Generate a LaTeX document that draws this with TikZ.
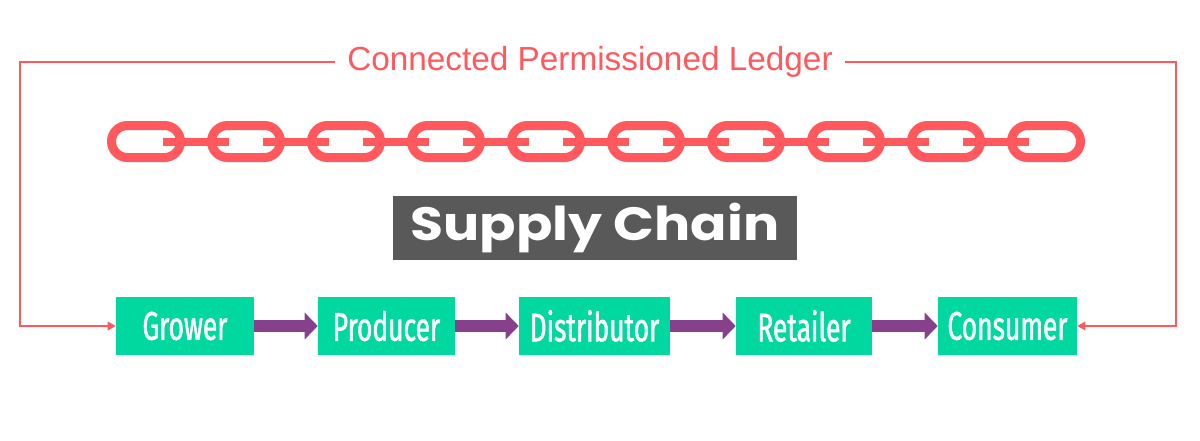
\documentclass[tikz,border=0pt]{standalone}
\usepackage{fontspec}
\usetikzlibrary{arrows.meta}
\setmainfont{Liberation Sans}
\newfontfamily\stagefont[FakeStretch=0.66,FakeBold=1.2]{Fira Sans}
\newfontfamily\headfont[FakeStretch=1.15]{Poppins}
\definecolor{ledgerred}{RGB}{255,88,93}
\definecolor{stagegreen}{RGB}{1,216,159}
\definecolor{flowpurple}{RGB}{135,64,140}
\definecolor{headgray}{RGB}{89,89,89}

\begin{document}
\begin{tikzpicture}[x=0.75pt,y=0.75pt,yscale=-1,xscale=1,
  stage/.style={fill=stagegreen,text=white,minimum height=43.5pt,inner sep=0pt,font=\stagefont\fontsize{30}{34}\selectfont},
  flow/.style={draw=flowpurple,line width=9pt,-{Triangle[length=9.75pt,width=19.5pt]}},
  ledger/.style={draw=ledgerred,line width=0.9pt,-{Triangle[length=6pt,width=6.5pt]}},
  link/.style={draw=ledgerred,line width=6.75pt,rounded corners=12pt}]
\useasboundingbox (0,0) rectangle (1200,440);

% Text Node
\node (title) [text=ledgerred,minimum width=382.5pt,inner sep=0pt,font=\fontsize{25}{30}\selectfont] at (590,62) {Connected Permissioned Ledger};
\coordinate (tl) at (20,62);
\coordinate (tr) at (1176,62);

% Chain
\foreach \c in {146,246,...,1046} {
  \draw [link] (\c-34.5,125.5) rectangle (\c+34.5,157.5);
}
\foreach \c in {146,246,...,946} {
  \draw [draw=ledgerred,line width=6pt] (\c+17,141.5) -- (\c+83,141.5);
}

% Text Node
\node (supply) [fill=headgray,text=white,minimum width=303pt,minimum height=48pt,inner sep=0pt,font=\headfont\bfseries\fontsize{35}{40}\selectfont] at (595,228) {Supply Chain};

% Stages
\node (grower) [stage,minimum width=103.5pt] at (185,326) {Grower};
\node (producer) [stage,minimum width=102.75pt] at (386.5,326) {Producer};
\node (distributor) [stage,minimum width=113.25pt] at (594.5,326) {Distributor};
\node (retailer) [stage,minimum width=102pt] at (804,326) {Retailer};
\node (consumer) [stage,minimum width=104.25pt] at (1007.5,326) {Consumer};

% Flow Arrows
\draw [flow] (grower) -- (producer);
\draw [flow] (producer) -- (distributor);
\draw [flow] (distributor) -- (retailer);
\draw [flow] (retailer) -- (consumer);

% Ledger Lines
\draw [ledger] (title.west |- tl) -- (tl) -- (tl |- grower.west) -- (grower.west);
\draw [ledger] (title.east |- tr) -- (tr) -- (tr |- consumer.east) -- (consumer.east);

\end{tikzpicture}
\end{document}
